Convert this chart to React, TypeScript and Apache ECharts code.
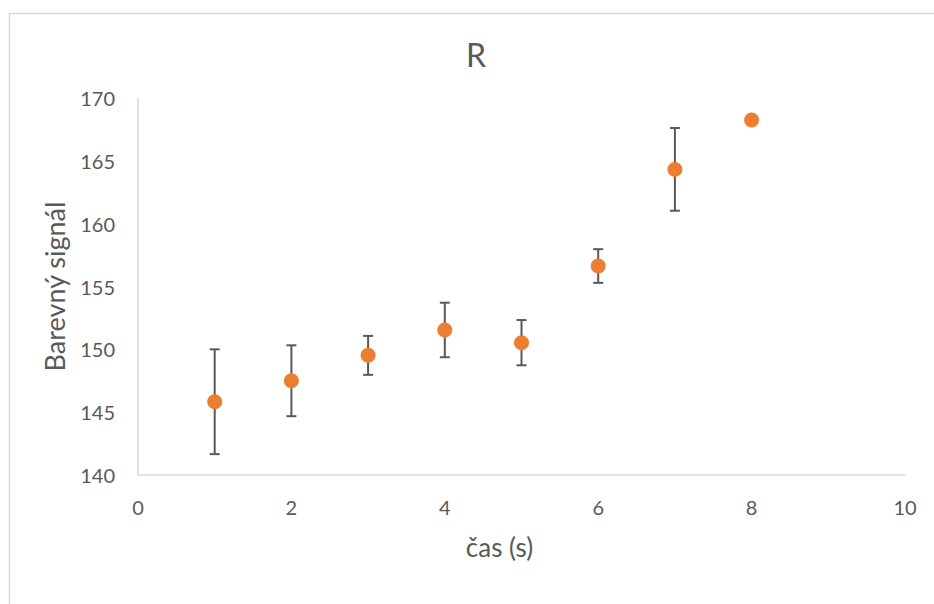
import React, { useEffect, useRef } from "react";
import * as echarts from "echarts";

const xValues = [1, 2, 3, 4, 5, 6, 7, 8];
const yValues = [145.83, 147.5, 149.52, 151.54, 150.53, 156.63, 164.32, 168.25];
const errValues = [4.17, 2.82, 1.55, 2.17, 1.8, 1.34, 3.29, 0];
const xTicks = [0, 2, 4, 6, 8, 10];
const yTicks = [140, 145, 150, 155, 160, 165, 170];

const FONT = "Lato, 'Noto Sans', sans-serif";
const TEXT = "#595959";

export default function App() {
  const ref = useRef<HTMLDivElement>(null);
  useEffect(() => {
    if (!ref.current) return;
    const chart = echarts.init(ref.current, undefined, { renderer: "svg" });
    const points = xValues.map((x, i) => [x, yValues[i], errValues[i]]);
    chart.setOption({
      animation: false,
      backgroundColor: "#ffffff",
      textStyle: { fontFamily: FONT },
      title: {
        text: "R",
        left: 466,
        top: 38,
        padding: 0,
        textStyle: { fontFamily: FONT, fontSize: 32, fontWeight: "normal", color: TEXT },
      },
      graphic: [
        {
          type: "rect",
          left: 7,
          top: 11,
          shape: { x: 0, y: 0, width: 1000, height: 700 },
          style: { fill: "none", stroke: "#D9D9D9", lineWidth: 1.5 },
          silent: true,
          z: -1,
        },
      ],
      grid: { left: 138, right: 29, top: 98, bottom: 129, containLabel: false },
      xAxis: {
        type: "value",
        min: xTicks[0],
        max: xTicks[xTicks.length - 1],
        interval: 2,
        name: "čas (s)",
        nameLocation: "middle",
        nameGap: 59,
        nameTextStyle: { fontFamily: FONT, fontSize: 26, color: TEXT, padding: [0, 44, 0, 0] },
        axisLine: { show: true, lineStyle: { color: "#D9D9D9", width: 1.5 } },
        axisTick: { show: false },
        splitLine: { show: false },
        axisLabel: { fontFamily: FONT, fontSize: 20, color: TEXT, margin: 22 },
      },
      yAxis: {
        type: "value",
        min: yTicks[0],
        max: yTicks[yTicks.length - 1],
        interval: 5,
        name: "Barevný signál",
        nameLocation: "middle",
        nameGap: 70,
        nameTextStyle: { fontFamily: FONT, fontSize: 27, color: TEXT },
        axisLine: { show: true, lineStyle: { color: "#D9D9D9", width: 1.5 } },
        axisTick: { show: false },
        splitLine: { show: false },
        axisLabel: { fontFamily: FONT, fontSize: 20, color: TEXT, margin: 23 },
      },
      series: [
        {
          type: "custom",
          z: 1,
          data: points,
          encode: { x: 0, y: 1 },
          renderItem: (params: any, api: any) => {
            const x = api.value(0);
            const y = api.value(1);
            const e = api.value(2);
            if (!e) return null;
            const top = api.coord([x, y + e]);
            const bot = api.coord([x, y - e]);
            const hw = 5;
            const style = { stroke: "#595959", lineWidth: 2, fill: "none" };
            return {
              type: "group",
              children: [
                { type: "line", shape: { x1: top[0], y1: top[1], x2: bot[0], y2: bot[1] }, style },
                { type: "line", shape: { x1: top[0] - hw, y1: top[1], x2: top[0] + hw, y2: top[1] }, style },
                { type: "line", shape: { x1: bot[0] - hw, y1: bot[1], x2: bot[0] + hw, y2: bot[1] }, style },
              ],
            };
          },
        },
        {
          type: "scatter",
          z: 3,
          symbol: "circle",
          symbolSize: 15,
          data: points.map((p) => [p[0], p[1]]),
          itemStyle: { color: "#ED7D31", opacity: 1 },
        },
      ],
    });
    return () => chart.dispose();
  }, []);
  return (
    <div
      ref={ref}
      style={{ position: "fixed", left: 0, top: 0, width: 934, height: 604 }}
    />
  );
}
